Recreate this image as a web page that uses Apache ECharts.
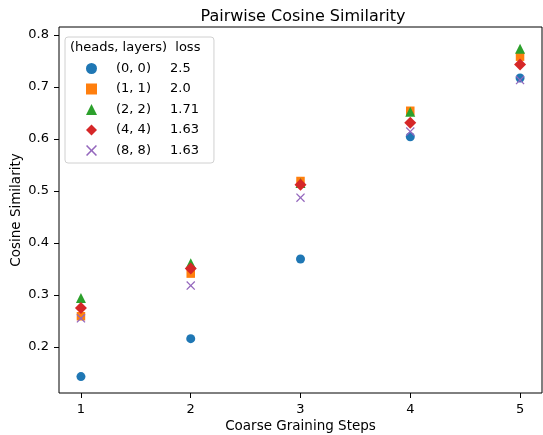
<!DOCTYPE html>
<html>
<head>
<meta charset="utf-8">
<script src="https://cdn.jsdelivr.net/npm/echarts@6/dist/echarts.min.js"></script>
<style>
  html, body { margin: 0; padding: 0; background: #fff; }
  #chart { width: 543px; height: 435px; }
</style>
</head>
<body>
<div id="chart"></div>
<script>
// coarse graining steps
var steps = [1, 2, 3, 4, 5];
var seriesNames = ["(0, 0)", "(1, 1)", "(2, 2)", "(4, 4)", "(8, 8)"];
var losses = ["2.5", "2.0", "1.71", "1.63", "1.63"];
// cosine similarity per config
var sim00 = [0.143, 0.216, 0.369, 0.604, 0.717];
var sim11 = [0.259, 0.341, 0.519, 0.654, 0.758];
var sim22 = [0.294, 0.361, 0.515, 0.652, 0.773];
var sim44 = [0.275, 0.351, 0.512, 0.631, 0.743];
var sim88 = [0.255, 0.318, 0.487, 0.614, 0.713];
var yTicks = [0.2, 0.3, 0.4, 0.5, 0.6, 0.7, 0.8];

var colors = ["#1f77b4", "#ff7f0e", "#2ca02c", "#d62728", "#9467bd"];
var xMarker = "path://M0,1L1,0L5,4L9,0L10,1L6,5L10,9L9,10L5,6L1,10L0,9L4,5Z";
var diamond = "path://M5,0L10,5L5,10L0,5Z";
var symbols = ["circle", "rect", "triangle", diamond, xMarker];
var sizes = [9, 8.5, 10, 12, 9];
var allData = [sim00, sim11, sim22, sim44, sim88];

var chart = echarts.init(document.getElementById("chart"));

var series = allData.map(function (vals, i) {
  return {
    name: seriesNames[i],
    type: "scatter",
    symbol: symbols[i],
    symbolSize: sizes[i],
    itemStyle: { color: colors[i], opacity: 1 },
    data: steps.map(function (s, j) { return [s, vals[j]]; })
  };
});

var lossMap = {};
seriesNames.forEach(function (n, i) { lossMap[n] = losses[i]; });

var font = "DejaVu Sans";

var option = {
  animation: false,
  title: {
    text: "Pairwise Cosine Similarity",
    left: 298,
    textAlign: "center",
    top: 4,
    textStyle: { fontFamily: font, fontSize: 16, fontWeight: "normal", color: "#000" }
  },
  grid: {
    left: 59, right: 1, top: 27, bottom: 42,
    outerBoundsMode: "none",
    show: true, borderColor: "#000", borderWidth: 1
  },
  legend: {
    orient: "vertical",
    left: 65,
    top: 37,
    padding: [25, 15, 6, 21],
    itemWidth: 11,
    itemHeight: 11,
    itemGap: 7.5,
    backgroundColor: "#fff",
    borderColor: "#d0d0d0",
    borderWidth: 1,
    borderRadius: 3,
    data: seriesNames,
    formatter: function (name) {
      return "{a|" + name + "}{b|" + lossMap[name] + "}";
    },
    textStyle: {
      fontFamily: font,
      fontSize: 13,
      color: "#000",
      rich: {
        a: { fontFamily: font, fontSize: 13, width: 54, padding: [0, 0, 0, 14] },
        b: { fontFamily: font, fontSize: 13 }
      }
    }
  },
  graphic: [{
    type: "text",
    left: 70,
    top: 41,
    z: 100,
    style: { text: "(heads, layers)  loss", font: "13px DejaVu Sans", fill: "#000" }
  }],
  xAxis: {
    type: "value",
    min: 0.8,
    max: 5.2,
    name: "Coarse Graining Steps",
    nameLocation: "middle",
    nameGap: 26,
    nameMoveOverlap: false,
    nameTextStyle: { fontFamily: font, fontSize: 13.5, color: "#000" },
    axisLine: { show: false },
    splitLine: { show: false },
    axisTick: { show: true, length: 5, inside: false, customValues: steps, lineStyle: { color: "#000" } },
    axisLabel: { customValues: steps, margin: 10, fontFamily: font, fontSize: 13, color: "#000" }
  },
  yAxis: {
    type: "value",
    min: 0.1115,
    max: 0.815,
    name: "Cosine Similarity",
    nameLocation: "middle",
    nameGap: 36,
    nameMoveOverlap: false,
    nameTextStyle: { fontFamily: font, fontSize: 13.5, color: "#000" },
    axisLine: { show: false },
    splitLine: { show: false },
    axisTick: { show: true, length: 5, inside: false, customValues: yTicks, lineStyle: { color: "#000" } },
    axisLabel: {
      customValues: yTicks, margin: 10, fontFamily: font, fontSize: 13, color: "#000",
      formatter: function (v) { return v.toFixed(1); }
    }
  },
  series: series
};

chart.setOption(option);
</script>
</body>
</html>
